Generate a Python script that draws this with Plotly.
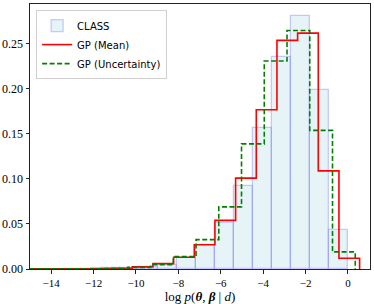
import plotly.graph_objects as go

# CLASS histogram (bin edges and densities)
class_edges = [-13.46, -12.56, -11.66, -10.77, -9.87, -8.97, -8.07, -7.17, -6.28,
               -5.38, -4.48, -3.58, -2.68, -1.79, -0.89, 0.01]
class_heights = [0.0002, 0.0003, 0.0006, 0.001, 0.002, 0.005, 0.012, 0.027, 0.051,
                 0.092, 0.157, 0.236, 0.281, 0.199, 0.043]

# GP (Mean) step histogram
mean_edges = [-15.05, -14.075, -13.1, -12.125, -11.15, -10.175, -9.2, -8.225, -7.25,
              -6.275, -5.3, -4.325, -3.35, -2.375, -1.4, -0.425, 0.55]
mean_heights = [0.0001, 0.0001, 0.0002, 0.0004, 0.0008, 0.0024, 0.006, 0.013, 0.027,
                0.054, 0.101, 0.177, 0.254, 0.262, 0.109, 0.012]

# GP (Uncertainty) step histogram
unc_edges = [-15.751, -14.678, -13.605, -12.532, -11.459, -10.386, -9.313, -8.24,
             -7.167, -6.094, -5.021, -3.948, -2.875, -1.802, -0.729, 0.344]
unc_heights = [0.0001, 0.0001, 0.0002, 0.0003, 0.0006, 0.0018, 0.0048, 0.0137,
               0.0326, 0.069, 0.139, 0.231, 0.265, 0.154, 0.019]

y_ticks = [0.0, 0.05, 0.10, 0.15, 0.20, 0.25]
x_ticks = [-14, -12, -10, -8, -6, -4, -2, 0]


def step_xy(edges, heights):
    xs = [edges[0]] + list(edges[:-1]) + [edges[-1]]
    ys = [0] + list(heights) + [0]
    return xs, ys


centers = [(a + b) / 2 for a, b in zip(class_edges[:-1], class_edges[1:])]
widths = [b - a for a, b in zip(class_edges[:-1], class_edges[1:])]

fig = go.Figure()
fig.add_trace(go.Bar(
    x=centers, y=class_heights, width=widths, name="CLASS",
    marker=dict(color="rgba(173,216,230,0.3)",
                line=dict(color="rgba(80,80,255,0.28)", width=1.3)),
))
mx, my = step_xy(mean_edges, mean_heights)
fig.add_trace(go.Scatter(
    x=mx, y=my, mode="lines", name="GP (Mean)", line_shape="hv",
    line=dict(color="red", width=1.6),
))
ux, uy = step_xy(unc_edges, unc_heights)
fig.add_trace(go.Scatter(
    x=ux, y=uy, mode="lines", name="GP (Uncertainty)", line_shape="hv",
    line=dict(color="green", width=1.6, dash="5px,2.5px"),
))

serif = "Liberation Serif, DejaVu Serif, serif"
fig.update_layout(
    width=374, height=304,
    margin=dict(l=30, r=4, t=4, b=35),
    plot_bgcolor="white", paper_bgcolor="white",
    bargap=0, barmode="overlay",
    showlegend=True,
    legend=dict(
        x=0.018, y=0.977, xanchor="left", yanchor="top",
        bgcolor="rgba(255,255,255,0.8)", bordercolor="#d0d0d0", borderwidth=1,
        font=dict(family="DejaVu Sans, sans-serif", size=10, color="black"),
        tracegroupgap=0, itemwidth=30,
    ),
    xaxis=dict(
        range=[-15, 1.04], tickmode="array", tickvals=x_ticks,
        ticktext=["\u2212" + str(-t) if t < 0 else str(t) for t in x_ticks],
        ticks="outside", ticklen=3.5, tickwidth=0.8, tickcolor="#222",
        showline=True, linecolor="#222", linewidth=1, mirror=True,
        showgrid=False, zeroline=False, automargin=False,
        tickfont=dict(family=serif, size=11, color="black"),
        title=dict(text="log <i>p</i>(<b><i>θ</i></b>, <b><i>β</i></b> | <i>d</i>)",
                   font=dict(family=serif, size=13, color="black"), standoff=4),
    ),
    yaxis=dict(
        range=[0, 0.2944], tickmode="array", tickvals=y_ticks,
        ticktext=["%.2f" % t for t in y_ticks],
        ticks="outside", ticklen=3.5, tickwidth=0.8, tickcolor="#222",
        showline=True, linecolor="#222", linewidth=1, mirror=True,
        showgrid=False, zeroline=False, automargin=False,
        tickfont=dict(family=serif, size=12, color="black"),
    ),
)

fig.write_html("out.html", config={"displayModeBar": False},
               post_script="document.body.style.margin='0';")
